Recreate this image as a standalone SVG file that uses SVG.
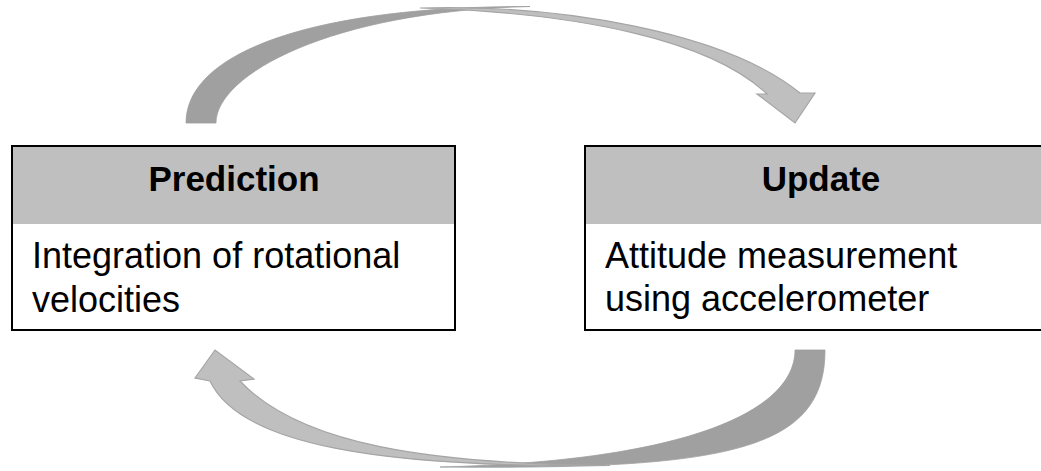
<svg xmlns="http://www.w3.org/2000/svg" width="1041" height="471" viewBox="0 0 1041 471">
<style>
.box{fill:#ffffff;stroke:#000000;stroke-width:2}
.hdr{fill:#bfbfbf}
.title{font-family:"Liberation Sans",Arial,sans-serif;font-weight:bold;font-size:35px;fill:#000000;text-anchor:middle}
.body{font-family:"Liberation Sans",Arial,sans-serif;font-size:36px;fill:#000000}
.dark{fill:#a0a0a0;stroke:#a0a0a0;stroke-width:0.8}
.light{fill:#bfbfbf;stroke:#a5a5a5;stroke-width:1.2;stroke-linejoin:miter}
</style>
<rect width="1041" height="471" fill="#ffffff"/>
<g id="connectors">
  <g id="arrow-top">
    <path class="dark" d="M186,123 C186,50 320,6 530,6.5 C330,11 216,75 216,123 Z"/>
    <path class="light" d="M420,8 C560,4 725,32 800,93 L815,93 L795,123 L757,94 L767,94 C710,40 580,13 420,8 Z"/>
  </g>
  <g id="arrow-bottom">
    <path class="dark" d="M825,350 C825,450 730,470 440,467 C690,461 795,410 795,350 Z"/>
    <path class="light" d="M210,381 C240,445 380,468 610,465.5 C430,464 300,445 240,381 L254,379 L215,350 L195,378 Z"/>
  </g>
</g>
<g id="node-prediction">
  <rect class="box" x="12" y="146" width="443" height="184"/>
  <rect class="hdr" x="13" y="147" width="441" height="77"/>
  <text class="title" x="234" y="191">Prediction</text>
  <text class="body" x="32" y="268">Integration of rotational</text>
  <text class="body" x="32" y="312">velocities</text>
</g>
<g id="node-update">
  <rect class="box" x="585" y="146" width="480" height="184"/>
  <rect class="hdr" x="586" y="147" width="478" height="77"/>
  <text class="title" x="821" y="191">Update</text>
  <text class="body" x="605" y="268">Attitude measurement</text>
  <text class="body" x="605" y="311">using accelerometer</text>
</g>
</svg>
